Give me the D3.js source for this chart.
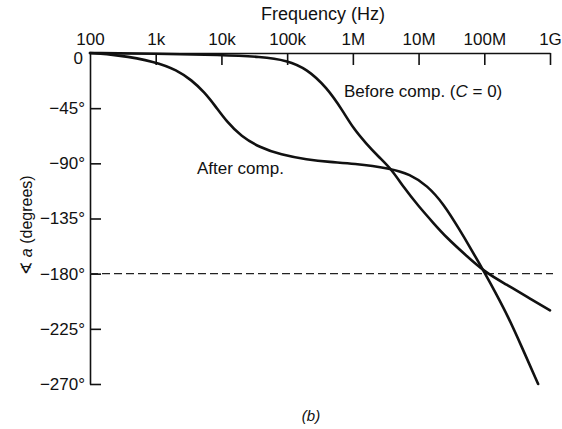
<!DOCTYPE html>
<html lang="en">
  <head>
    <meta charset="utf-8">
    <style>
      body { margin: 0; background: #fff; }
      text { font-family: "Liberation Sans", Arial, sans-serif; fill: #111; }
    </style>
  </head>
  <body>
    <script src="https://d3js.org/d3.v7.min.js"></script>
    <script>
      var width = 562,
        height = 429;

      // tick values and labels
      var freqTicks = [1e2, 1e3, 1e4, 1e5, 1e6, 1e7, 1e8, 1e9];
      var freqLabels = ["100", "1k", "10k", "100k", "1M", "10M", "100M", "1G"];
      var phaseTicks = [0, -45, -90, -135, -180, -225, -270];

      // [frequency Hz, phase degrees]
      var beforeComp = [
        [1e2, 0], [1e3, -0.5], [1e4, -1.5], [4e4, -3], [1e5, -6],
        [2e5, -13], [4e5, -28], [7e5, -47],
        [1e6, -61], [1.6e6, -74], [2.5e6, -85], [3.9e6, -95], [6e6, -110],
        [1e7, -125], [1.7e7, -139], [2.6e7, -150], [5e7, -164],
        [1.03e8, -179], [2.2e8, -189], [4.5e8, -199], [1e9, -210]
      ];
      var afterComp = [
        [1e2, 0], [250, -1.5], [1e3, -7], [2.1e3, -14], [3.5e3, -22],
        [5.5e3, -32], [8e3, -43], [1.2e4, -56], [2e4, -68], [3.8e4, -77],
        [8e4, -83], [2e5, -87], [4.5e5, -89], [1e6, -90], [3.7e6, -94],
        [7.4e6, -99], [1.35e7, -108], [2.4e7, -123], [4.3e7, -145],
        [6e7, -158], [1.03e8, -180], [1.5e8, -196],
        [2.3e8, -215], [3.6e8, -238], [6.6e8, -270]
      ];
      var refLine = -180;

      var svg = d3.select("body")
        .append("svg")
        .attr("width", width)
        .attr("height", height);

      var x = d3.scaleLog().domain([1e2, 1e9]).range([90, 550]);
      var y = d3.scaleLinear().domain([0, -270]).range([53, 384]);

      // top frequency axis, ticks hanging into the plot
      var xAxis = d3.axisBottom(x)
        .tickValues(freqTicks)
        .tickSizeInner(12)
        .tickSizeOuter(0)
        .tickFormat(function (d, i) { return freqLabels[i]; });
      var gx = svg.append("g")
        .attr("transform", "translate(0," + y(0) + ")")
        .call(xAxis);
      gx.selectAll("text").attr("y", -8).attr("dy", 0).style("font-size", "17px");
      gx.selectAll("line, path").attr("stroke", "#111").attr("stroke-width", 1.6);
      gx.selectAll(".tick").filter(function (d) { return d === 1e2; }).select("line").remove();

      // left phase axis, ticks pointing right
      var yAxis = d3.axisRight(y)
        .tickValues(phaseTicks)
        .tickSizeInner(11)
        .tickSizeOuter(0)
        .tickFormat(function (d) { return d === 0 ? "0" : "\u2212" + (-d) + "°"; });
      var gy = svg.append("g")
        .attr("transform", "translate(" + x(1e2) + ",0)")
        .call(yAxis);
      gy.selectAll("text").attr("x", -5).attr("text-anchor", "end").style("font-size", "17px");
      gy.selectAll("line, path").attr("stroke", "#111").attr("stroke-width", 1.6);
      var zeroTick = gy.selectAll(".tick").filter(function (d) { return d === 0; });
      zeroTick.select("line").remove();
      zeroTick.select("text").attr("x", -7).attr("y", 5);

      // dashed -180 line
      svg.append("line")
        .attr("x1", x(1e2)).attr("x2", x(1e9) + 3)
        .attr("y1", y(refLine)).attr("y2", y(refLine))
        .attr("stroke", "#222")
        .attr("stroke-width", 1.3)
        .attr("stroke-dasharray", "8,4");

      var line = d3.line()
        .x(function (d) { return x(d[0]); })
        .y(function (d) { return y(d[1]); })
        .curve(d3.curveBasis);

      [beforeComp, afterComp].forEach(function (s) {
        svg.append("path")
          .datum(s)
          .attr("fill", "none")
          .attr("stroke", "#111")
          .attr("stroke-width", 2.6)
          .attr("stroke-linecap", "round")
          .attr("d", line);
      });

      // titles and labels
      svg.append("text")
        .attr("x", 323).attr("y", 20)
        .attr("text-anchor", "middle")
        .style("font-size", "18px")
        .text("Frequency (Hz)");

      var yt = svg.append("text")
        .attr("transform", "translate(32,225) rotate(-90)")
        .attr("text-anchor", "middle")
        .style("font-size", "16px");
      yt.append("tspan").text("\u2222 ");
      yt.append("tspan").style("font-style", "italic").text("a");
      yt.append("tspan").text(" (degrees)");

      var lb = svg.append("text")
        .attr("x", 344).attr("y", 97)
        .style("font-size", "17px");
      lb.append("tspan").text("Before comp. (");
      lb.append("tspan").style("font-style", "italic").text("C");
      lb.append("tspan").text(" = 0)");

      svg.append("text")
        .attr("x", 197).attr("y", 174)
        .style("font-size", "17px")
        .text("After comp.");

      svg.append("text")
        .attr("x", 311).attr("y", 421)
        .attr("text-anchor", "middle")
        .style("font-size", "15px")
        .style("font-style", "italic")
        .text("(b)");
    </script>
  </body>
</html>
